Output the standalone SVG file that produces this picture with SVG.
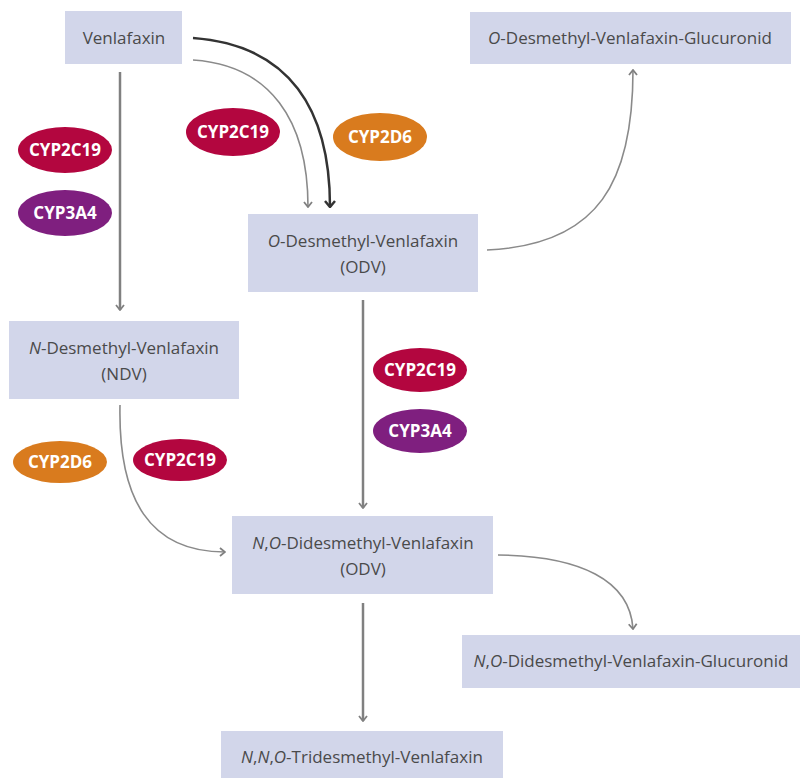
<svg xmlns="http://www.w3.org/2000/svg" width="801" height="778" viewBox="0 0 801 778">
<defs>
<style>
.box{fill:#d2d6ea}
.t{font-family:"Open Sans","Noto Sans",sans-serif;font-size:17px;fill:#4a4a4a;text-anchor:middle}
.e{font-family:"Open Sans","Noto Sans",sans-serif;font-size:17px;font-weight:bold;fill:#fff;text-anchor:middle}
.c{fill:none;stroke:#808080;stroke-width:2.5}
.thin{fill:none;stroke:#8a8a8a;stroke-width:1.6}
.dark{fill:none;stroke:#333;stroke-width:2.5}
.red{fill:#b3063f}.org{fill:#d97b1e}.pur{fill:#7f1f7f}
</style>
<marker id="ag" viewBox="0 0 10 10" refX="9" refY="5" markerWidth="10" markerHeight="10" markerUnits="userSpaceOnUse" orient="auto">
<path d="M4,1 L9,5 L4,9" fill="none" stroke="#808080" stroke-width="1.8"/>
</marker>
<marker id="ad" viewBox="0 0 12 12" refX="11" refY="6" markerWidth="12" markerHeight="12" markerUnits="userSpaceOnUse" orient="auto">
<path d="M5,1 L11,6 L5,11" fill="none" stroke="#333" stroke-width="2.5"/>
</marker>
</defs>
<g id="connectors">
<path class="c" d="M120,72 L120,310" marker-end="url(#ag)"/>
<path class="thin" d="M193,60 C270,65 308,120 308,207" marker-end="url(#ag)"/>
<path class="dark" d="M193,38 C290,45 330,110 330,207" marker-end="url(#ad)"/>
<path class="thin" d="M487,250 C600,245 633,180 633,70" marker-end="url(#ag)"/>
<path class="c" d="M363,300 L363,508" marker-end="url(#ag)"/>
<path class="thin" d="M120,405 C118,500 150,552 225,552" marker-end="url(#ag)"/>
<path class="thin" d="M498,555 C580,556 630,580 633,629" marker-end="url(#ag)"/>
<path class="c" d="M363,603 L363,721" marker-end="url(#ag)"/>
</g>
<g id="venlafaxin"><rect class="box" x="65" y="11" width="117" height="53"/><text class="t" x="124" y="44">Venlafaxin</text></g>
<g id="odv-glucuronid"><rect class="box" x="470" y="12" width="321" height="52"/><text class="t" x="630" y="44"><tspan font-style="italic">O</tspan>-Desmethyl-Venlafaxin-Glucuronid</text></g>
<g id="odv"><rect class="box" x="248" y="214" width="230" height="78"/><text class="t" x="363" y="247"><tspan font-style="italic">O</tspan>-Desmethyl-Venlafaxin</text><text class="t" x="363" y="273">(ODV)</text></g>
<g id="ndv"><rect class="box" x="9" y="321" width="230" height="78"/><text class="t" x="124" y="354"><tspan font-style="italic">N</tspan>-Desmethyl-Venlafaxin</text><text class="t" x="124" y="380">(NDV)</text></g>
<g id="nodv"><rect class="box" x="232" y="516" width="261" height="78"/><text class="t" x="363" y="549"><tspan font-style="italic">N</tspan>,<tspan font-style="italic">O</tspan>-Didesmethyl-Venlafaxin</text><text class="t" x="363" y="575">(ODV)</text></g>
<g id="nodv-glucuronid"><rect class="box" x="462" y="635" width="338" height="53"/><text class="t" x="631" y="667"><tspan font-style="italic">N</tspan>,<tspan font-style="italic">O</tspan>-Didesmethyl-Venlafaxin-Glucuronid</text></g>
<g id="tridesmethyl"><rect class="box" x="221" y="731" width="282" height="47"/><text class="t" x="362" y="763"><tspan font-style="italic">N</tspan>,<tspan font-style="italic">N</tspan>,<tspan font-style="italic">O</tspan>-Tridesmethyl-Venlafaxin</text></g>
<g id="e1"><ellipse class="red" cx="65" cy="150" rx="47" ry="23"/><text class="e" x="65" y="156">CYP2C19</text></g>
<g id="e2"><ellipse class="pur" cx="65" cy="213" rx="47" ry="23"/><text class="e" x="65" y="219">CYP3A4</text></g>
<g id="e3"><ellipse class="red" cx="233" cy="132" rx="47" ry="24"/><text class="e" x="233" y="138">CYP2C19</text></g>
<g id="e4"><ellipse class="org" cx="380" cy="137" rx="47" ry="24"/><text class="e" x="380" y="143">CYP2D6</text></g>
<g id="e5"><ellipse class="red" cx="420" cy="370" rx="47" ry="22"/><text class="e" x="420" y="376">CYP2C19</text></g>
<g id="e6"><ellipse class="pur" cx="420" cy="431" rx="47" ry="22"/><text class="e" x="420" y="437">CYP3A4</text></g>
<g id="e7"><ellipse class="org" cx="60" cy="462" rx="47" ry="21"/><text class="e" x="60" y="468">CYP2D6</text></g>
<g id="e8"><ellipse class="red" cx="180" cy="460" rx="47" ry="21"/><text class="e" x="180" y="466">CYP2C19</text></g>
</svg>
